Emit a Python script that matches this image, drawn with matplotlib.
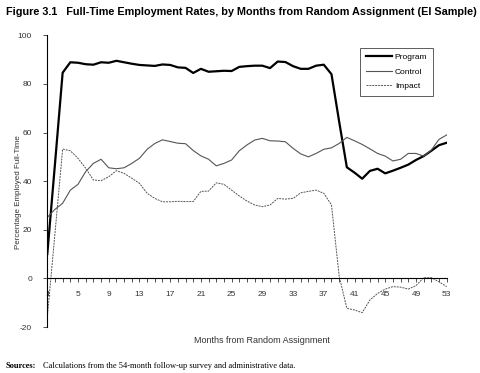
#!/usr/bin/env python3
"""Figure 3.1: full-time employment rates by months from random assignment (EI sample)."""
import matplotlib
matplotlib.use('Agg')
import matplotlib.pyplot as plt

months = list(range(1, 54))

program = [10, 47, 84.6, 88.9, 88.7, 88.1, 87.9, 88.9, 88.7, 89.5,
           88.9, 88.3, 87.8, 87.6, 87.4, 88.0, 87.8, 86.8, 86.6, 84.5,
           86.2, 85.0, 85.2, 85.4, 85.3, 87.0, 87.3, 87.5, 87.5, 86.5,
           89.2, 89.0, 87.3, 86.2, 86.2, 87.5, 87.9, 84.0, 64.5, 45.7,
           43.5, 41.0, 44.2, 45.1, 43.2, 44.3, 45.5, 46.8, 48.7, 50.3,
           52.5, 54.8, 55.8]

control = [25.1, 28.4, 30.9, 36.3, 38.7, 43.9, 47.3, 49.0, 45.5, 45.1,
           45.5, 47.3, 49.4, 53.1, 55.5, 57.0, 56.3, 55.6, 55.4, 52.6,
           50.4, 49.0, 46.3, 47.3, 48.7, 52.5, 54.9, 56.9, 57.6, 56.6,
           56.5, 56.2, 53.5, 51.2, 50.0, 51.4, 53.1, 53.7, 55.5, 58.0,
           56.6, 55.1, 53.3, 51.4, 50.3, 48.3, 49.0, 51.4, 51.4, 50.3,
           52.8, 57.2, 59.0]

impact = [-16, 18.5, 53.2, 52.5, 49.4, 45.3, 40.5, 40.2, 41.8, 44.3,
          43.2, 41.2, 39.1, 35.0, 32.9, 31.5, 31.5, 31.7, 31.6, 31.6,
          35.8, 35.9, 39.3, 38.7, 36.3, 33.9, 31.8, 30.2, 29.5, 30.2,
          32.9, 32.6, 32.9, 35.2, 35.8, 36.3, 35.0, 30.2, 1.0, -12.3,
          -13.0, -14.1, -8.9, -6.2, -4.4, -3.4, -3.6, -4.4, -3.0, 0.3,
          0.3, -1.4, -3.4]

tick_labels = list(range(1, 54, 4))
y_ticks = [-20, 0, 20, 40, 60, 80, 100]

plt.rcParams['font.family'] = ['Liberation Sans', 'DejaVu Sans']
plt.rcParams['axes.unicode_minus'] = False

fig = plt.figure(figsize=(4.8, 3.73), dpi=100)
ax = fig.add_axes([0.0985, 0.1233, 0.8321, 0.7821])

ax.plot(months, program, color='black', lw=1.6, label='Program')
ax.plot(months, control, color='#555555', lw=0.8, label='Control')
ax.plot(months, impact, color='#555555', lw=0.7, ls=(0, (2, 1)), label='Impact')

ax.set_xlim(1, 53)
ax.set_ylim(-20, 100)
ax.spines['top'].set_visible(False)
ax.spines['right'].set_visible(False)
ax.spines['bottom'].set_position(('data', 0))
ax.spines['left'].set_linewidth(0.8)
ax.spines['bottom'].set_linewidth(0.8)

ax.set_xticks(months)
ax.set_xticklabels([str(m) if m in tick_labels else '' for m in months])
ax.set_yticks(y_ticks)
ax.tick_params(axis='x', direction='out', length=3, width=0.6, labelsize=6,
               pad=6, colors='#333333')
ax.tick_params(axis='y', direction='out', length=3, width=0.6, labelsize=6,
               pad=8, colors='#333333')

leg = ax.legend(loc='upper right', bbox_to_anchor=(0.966, 0.958), fontsize=6,
                frameon=True, fancybox=False, edgecolor='#333333',
                handlelength=3.2, handletextpad=0.3, borderpad=0.7,
                labelspacing=0.8, borderaxespad=0)
leg.get_frame().set_linewidth(0.7)

fig.text(0.038, 0.486, 'Percentage Employed Full-Time', rotation=90,
         ha='center', va='center', fontsize=5.8, color='#333333')
fig.text(0.546, 0.086, 'Months from Random Assignment', ha='center',
         va='center', fontsize=6.5, color='#333333')

fig.text(0.012, 0.968, 'Figure 3.1   Full-Time Employment Rates, by Months from Random Assignment (EI Sample)',
         ha='left', va='center', fontsize=7.8, fontweight='bold')

fig.text(0.012, 0.02, 'Sources:', ha='left', va='center', fontsize=6,
         fontweight='bold', family='Liberation Serif')
fig.text(0.09, 0.02, 'Calculations from the 54-month follow-up survey and administrative data.',
         ha='left', va='center', fontsize=6, family='Liberation Serif')

fig.savefig('out.png', dpi=100)
